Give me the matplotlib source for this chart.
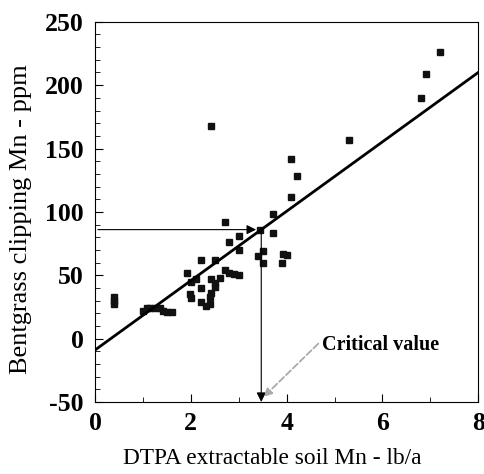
import numpy as np
from matplotlib import pyplot as plt

plt.rcParams['font.family'] = ['Liberation Serif', 'DejaVu Serif']
plt.rcParams['axes.unicode_minus'] = False

# soil Mn (lb/a) vs clipping Mn (ppm)
soil_mn = [0.40, 0.40, 0.40, 1.00, 1.09, 1.15, 1.26, 1.36, 1.41, 1.51, 1.61,
           1.91, 1.98, 2.01, 2.01, 2.11, 2.21, 2.21, 2.22, 2.32, 2.40, 2.40,
           2.42, 2.42, 2.42, 2.51, 2.51, 2.51, 2.61, 2.71, 2.71, 2.80, 2.80,
           2.90, 3.00, 3.00, 3.00, 3.40, 3.45, 3.50, 3.51, 3.71, 3.71, 3.90,
           3.92, 4.01, 4.10, 4.10, 4.21, 5.31, 6.80, 6.91, 7.20]
clip_mn = [33, 30, 27, 22, 24, 24, 24, 24, 22, 21, 21,
           52, 35, 45, 32, 47, 62, 40, 29, 26, 33, 27,
           168, 47, 36, 62, 44, 41, 48, 92, 54, 76, 52,
           51, 81, 70, 50, 65, 86, 60, 69, 98, 83, 60,
           67, 66, 142, 112, 128, 157, 190, 209, 226]

# fitted line end points
fit_x = [0, 8]
fit_y = [-9, 210]

crit_x = 3.47
crit_y = 86

fig = plt.figure(figsize=(4.85, 4.74), dpi=100)
ax = fig.add_axes([0.196, 0.152, 0.79, 0.802])

ax.plot(soil_mn, clip_mn, 's', color='#111111', markersize=4)
ax.plot(fit_x, fit_y, color='black', lw=2)

# horizontal and vertical guide lines with arrow heads
ax.annotate('', xy=(crit_x - 0.05, crit_y), xytext=(0, crit_y),
            arrowprops=dict(arrowstyle='-|>', color='black', lw=0.8, mutation_scale=14))
ax.annotate('', xy=(crit_x, -50), xytext=(crit_x, crit_y),
            arrowprops=dict(arrowstyle='-|>', color='black', lw=0.8, mutation_scale=14,
                            shrinkA=0, shrinkB=0))

# critical value label
ax.annotate('', xy=(3.52, -46), xytext=(4.66, -4),
            arrowprops=dict(arrowstyle='-|>', color='#aaaaaa', lw=1.3, ls='--',
                            mutation_scale=12, shrinkA=0, shrinkB=0))
ax.text(4.74, -5, 'Critical value', fontsize=14.5, fontweight='bold', va='center')

ax.set_xlim(0, 8)
ax.set_ylim(-50, 250)
ax.set_xticks([0, 2, 4, 6, 8])
ax.set_xticks([1, 3, 5, 7], minor=True)
ax.set_yticks(np.arange(-50, 251, 50))
ax.set_yticks(np.arange(-50, 251, 10), minor=True)
ax.tick_params(direction='in', which='both', labelsize=18.5)
ax.tick_params(which='major', length=6)
ax.tick_params(which='minor', length=3.5)
ax.tick_params(axis='y', which='major', pad=8)
ax.tick_params(axis='x', which='major', pad=7)
for lbl in ax.get_xticklabels() + ax.get_yticklabels():
    lbl.set_fontweight('bold')

ax.set_xlabel('DTPA extractable soil Mn - lb/a', fontsize=16.8)
ax.set_ylabel('Bentgrass clipping Mn - ppm', fontsize=19)
ax.xaxis.set_label_coords(0.462, -0.122)
ax.yaxis.set_label_coords(-0.164, 0.48)

fig.savefig('out.png')
